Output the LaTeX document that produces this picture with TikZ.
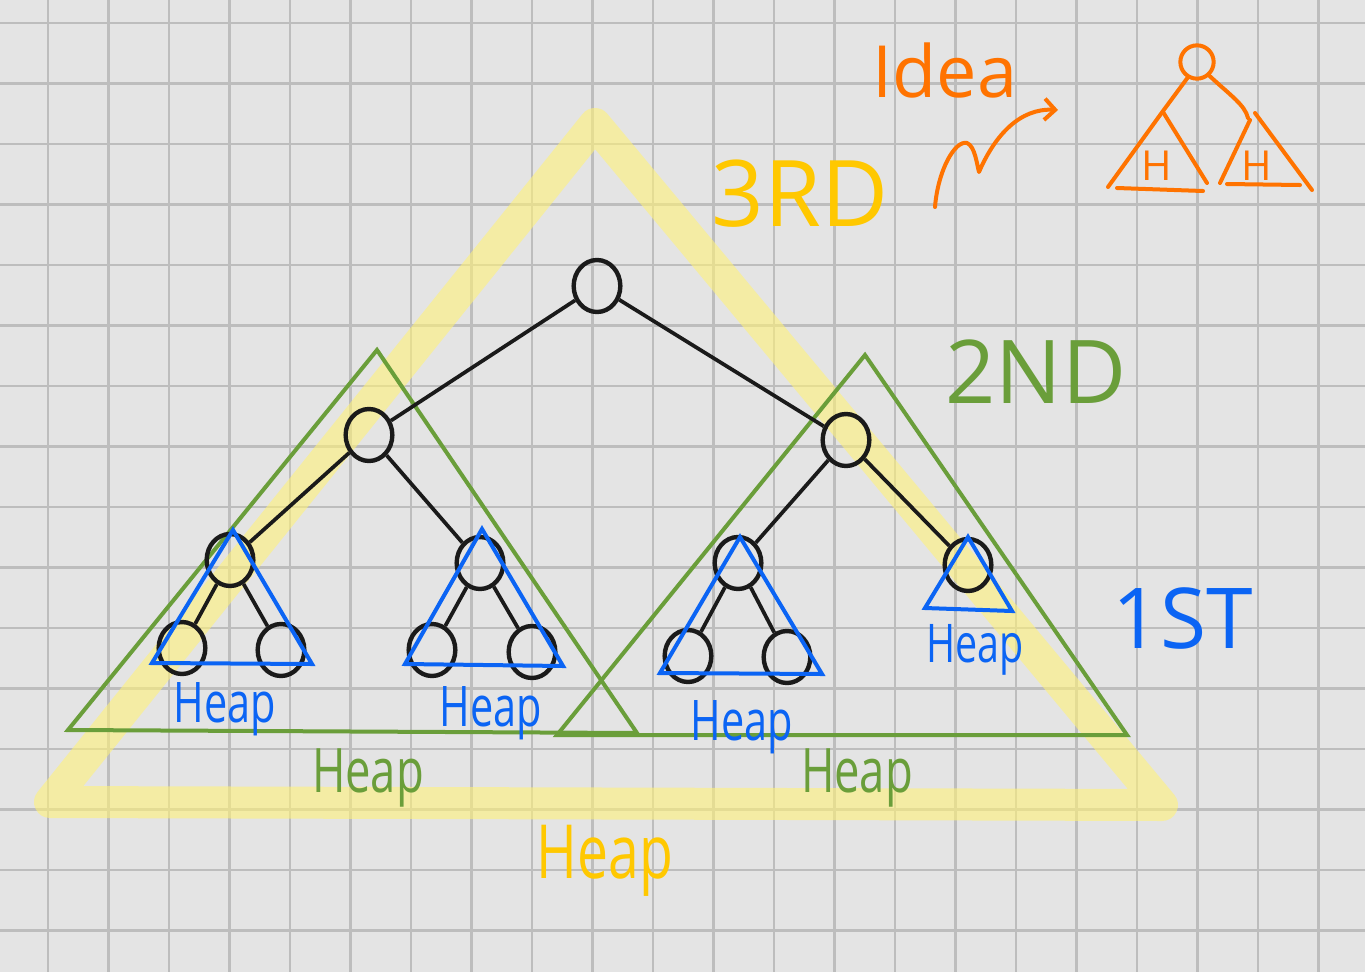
\documentclass[tikz,border=0pt]{standalone}
\usepackage{fontspec}
\setmainfont{Open Sans}
\newfontfamily\hand[FakeStretch=0.74]{Open Sans}
\usepackage{xcolor}
\usetikzlibrary{arrows.meta,shapes.geometric}
\definecolor{paper}{HTML}{E4E4E4}
\definecolor{gridgray}{HTML}{BDBDBD}
\definecolor{ink}{HTML}{1A1A1A}
\definecolor{blue}{HTML}{0B64F4}
\definecolor{green}{HTML}{6A9E3A}
\definecolor{gold}{HTML}{FFC800}
\definecolor{pale}{HTML}{FFF27A}
\definecolor{orange}{HTML}{FF7300}

\begin{document}
\begin{tikzpicture}[x=0.75pt,y=-0.75pt,
  knot/.style={draw=ink,ellipse,line width=3.3pt,minimum width=35pt,minimum height=39pt,inner sep=0pt},
  edge/.style={ink,line width=2.8pt},
  word/.style={anchor=base,inner sep=0pt,font=\hand\fontsize{#1}{#1}\selectfont},
  tag/.style={anchor=base,inner sep=0pt,font=\fontsize{#1}{#1}\selectfont}]
  \useasboundingbox (0,0) rectangle (1365,972);
  \fill[paper] (0,0) rectangle (1365,972);
  \foreach \i in {0,...,21} \draw[gridgray,line width=1.6pt] ({48+60.5*\i},0)--({48+60.5*\i},972);
  \foreach \j in {0,...,15} \draw[gridgray,line width=1.6pt] (0,{23+60.5*\j})--(1365,{23+60.5*\j});
  % outer heap
  \draw[pale,opacity=0.6,line width=24pt,line join=round] (595,124)--(50,802)--(1162,805)--cycle;
  % middle heaps
  \draw[green,line width=3pt] (377,350)--(68,730)--(637,733)--cycle;
  \draw[green,line width=3pt] (865,355)--(557,735)--(1127,735)--cycle;
  % tree
  \node[knot] (top) at (597,286) {};
  \node[knot] (lt) at (369,435) {};
  \node[knot] (rt) at (846,440) {};
  \node[knot] (ll) at (230,560) {};
  \node[knot] (lr) at (480,563) {};
  \node[knot] (rl) at (738,563) {};
  \node[knot] (rr) at (968,565) {};
  \node[knot] (lll) at (182,648) {};
  \node[knot] (llr) at (281,650) {};
  \node[knot] (lrl) at (432,650) {};
  \node[knot] (lrr) at (532,652) {};
  \node[knot] (rll) at (688,656) {};
  \node[knot] (rlr) at (787,657) {};
  \draw[edge] (top)--(lt); \draw[edge] (top)--(rt);
  \draw[edge] (lt)--(ll); \draw[edge] (lt)--(lr);
  \draw[edge] (rt)--(rl); \draw[edge] (rt)--(rr);
  \draw[edge] (ll)--(lll); \draw[edge] (ll)--(llr);
  \draw[edge] (lr)--(lrl); \draw[edge] (lr)--(lrr);
  \draw[edge] (rl)--(rll); \draw[edge] (rl)--(rlr);
  % small heaps
  \draw[blue,line width=3pt] (233,530)--(152,663)--(312,664)--cycle;
  \draw[blue,line width=3pt] (482,529)--(405,664)--(563,666)--cycle;
  \draw[blue,line width=3pt] (740,537)--(660,673)--(822,674)--cycle;
  \draw[blue,line width=3pt] (968,537)--(925,608)--(1012,611)--cycle;
  \node[word=42,blue] (h1) at (225,722) {Heap};
  \node[word=42,blue] (h2) at (491,726) {Heap};
  \node[word=42,blue] (h3) at (742,740) {Heap};
  \node[word=40,blue] (h4) at (975,662) {Heap};
  \node[word=46,green] (h5) at (368,792) {Heap};
  \node[word=46,green] (h6) at (857,792) {Heap};
  \node[word=56,gold] (h7) at (605,878) {Heap};
  \node[tag=69,gold] (third) at (800,226) {3RD};
  \node[tag=66,green] (second) at (1036,403) {2ND};
  \node[tag=63,blue] (first) at (1183,648) {1ST};
  % idea
  \node[tag=54,orange] (idea) at (945,97) {Idea};
  \coordinate (sqa) at (935,207);
  \coordinate (sqb) at (1058,110);
  \draw[orange,line width=3pt,line cap=round,line join=round,-{Straight Barb[length=8pt,width=16pt]}]
    (sqa) .. controls (938,170) and (955,140) .. (967,143)
    .. controls (975,146) and (977,165) .. (979,172)
    .. controls (995,135) and (1020,108) .. (sqb);
  \node[draw=orange,circle,line width=3pt,minimum size=25pt,inner sep=0pt] (itop) at (1197,62) {};
  \draw[orange,line width=3pt,line cap=round,line join=round] (itop.-121)--(1163,111)--(1108,187);
  \draw[orange,line width=3pt,line cap=round] (1163,112)--(1207,183) (1117,188)--(1203,191);
  \draw[orange,line width=3pt,line cap=round] (itop.-48) .. controls (1230,95) and (1245,105) .. (1248,118);
  \draw[orange,line width=3pt,line cap=round] (1255,113)--(1312,190) (1250,120)--(1220,183) (1227,184)--(1300,185);
  \node[tag=31,orange] (hl) at (1157,180) {H};
  \node[tag=31,orange] (hr) at (1257,180) {H};
\end{tikzpicture}
\end{document}
